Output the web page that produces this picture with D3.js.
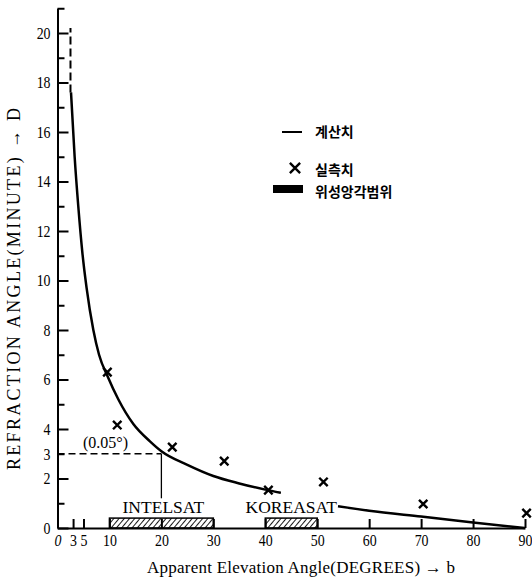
<!DOCTYPE html>
<html>
<head>
<meta charset="utf-8">
<script src="https://cdn.jsdelivr.net/npm/d3@7"></script>
<style>
  body { margin: 0; background: #fff; }
  svg { display: block; }
</style>
</head>
<body>
<div id="chart"></div>
<script>
// calculated refraction curve (null = gap behind the KOREASAT label)
const curveAngle = [2.6, 3.3, 4, 4.8, 5.6, 6.9, 8, 9.7, 11.7, 14.6, 17.8, 20, 25, 30, 35, 40, 43, null, 54, 60, 70, 80, 90]
const curveMinute = [17.6, 15.0, 13.0, 11.1, 9.7, 8.0, 7.0, 6.1, 5.2, 4.2, 3.5, 3.1, 2.55, 2.1, 1.8, 1.55, 1.42, null, 0.88, 0.7, 0.46, 0.22, 0]

// measured values
const measAngle = [9.6, 11.5, 22.1, 32.1, 40.6, 51.2, 70.4, 90.3]
const measMinute = [6.3, 4.16, 3.27, 2.7, 1.53, 1.86, 0.97, 0.6]

// satellite elevation ranges
const satNames = ["INTELSAT", "KOREASAT"]
const satFrom = [10, 40]
const satTo = [30, 50]

const xTicks = [3, 5, 10, 20, 30, 40, 50, 60, 70, 80, 90]
const xLabels = [0, 3, 5, 10, 20, 30, 40, 50, 60, 70, 80, 90]
const yMajor = [0, 2, 4, 6, 8, 10, 12, 14, 16, 18, 20]
const yMinor = [1, 3, 5, 7, 9, 11, 13, 15, 17, 19, 21]
const yLabels = [0, 2, 3, 4, 6, 8, 10, 12, 14, 16, 18, 20]

const legendLabels = ["계산치", "실측치", "위성앙각범위"]

const serif = "'Liberation Serif', 'DejaVu Serif', serif"
const korean = "'Noto Sans CJK KR', sans-serif"

const width = 532
const height = 581

const svg = d3.select("#chart")
  .append("svg")
  .attr("width", width)
  .attr("height", height)
  .attr("font-family", serif)

const x = d3.scaleLinear().domain([0, 90]).range([57.5, 525])
const y = d3.scaleLinear().domain([0, 21]).range([528, 528 - 21 * 24.75])

const defs = svg.append("defs")
const hatch = defs.append("pattern")
  .attr("id", "hatch")
  .attr("patternUnits", "userSpaceOnUse")
  .attr("width", 4).attr("height", 4)
  .attr("patternTransform", "rotate(40)")
hatch.append("line")
  .attr("x1", 0).attr("y1", 0).attr("x2", 0).attr("y2", 4)
  .attr("stroke", "#000").attr("stroke-width", 1.8)

// Y axis: long ticks on even values, short ones on odd
svg.append("g")
  .attr("transform", `translate(${x(0)},0)`)
  .call(d3.axisRight(y).tickValues(yMajor).tickSize(11).tickSizeOuter(0).tickFormat(""))
svg.append("g")
  .attr("transform", `translate(${x(0)},0)`)
  .call(d3.axisRight(y).tickValues(yMinor).tickSize(7).tickSizeOuter(0).tickFormat(""))
  .call(g => g.select(".domain").remove())
svg.append("g")
  .attr("transform", `translate(${x(0) - 2},0)`)
  .call(d3.axisLeft(y).tickValues(yLabels).tickSize(0).tickPadding(6))
  .attr("font-family", serif)
  .attr("font-size", 17)
  .call(g => g.select(".domain").remove())
  .call(g => g.selectAll("text")
    .attr("fill", "#000")
    .attr("transform", "scale(0.82,1)"))

// X axis, ticks pointing up
svg.append("g")
  .attr("transform", `translate(0,${y(0)})`)
  .call(d3.axisTop(x).tickValues(xTicks).tickSize(9).tickSizeOuter(0).tickFormat(""))
svg.append("g")
  .attr("transform", `translate(0,${y(0)})`)
  .call(d3.axisBottom(x).tickValues(xLabels).tickSize(0).tickPadding(6))
  .attr("font-family", serif)
  .attr("font-size", 17)
  .call(g => g.select(".domain").remove())
  .call(g => g.selectAll("text")
    .attr("fill", "#000")
    .attr("transform", "scale(0.82,1)")
    .attr("font-style", d => d === 0 ? "italic" : null))

svg.selectAll(".domain, .tick line")
  .attr("stroke", "#000")
  .attr("stroke-width", 2)

// satellite range bars
const sats = satNames.map((name, i) => ({ name, from: satFrom[i], to: satTo[i] }))
svg.selectAll(".sat")
  .data(sats)
  .join("rect")
  .attr("x", d => x(d.from))
  .attr("y", y(0.4))
  .attr("width", d => x(d.to) - x(d.from))
  .attr("height", y(0) - y(0.4))
  .attr("fill", "url(#hatch)")
  .attr("stroke", "#000")
  .attr("stroke-width", 1.5)

// reference lines at 20 degrees / 3 minutes
svg.append("line")
  .attr("x1", x(0)).attr("x2", x(20))
  .attr("y1", y(3)).attr("y2", y(3))
  .attr("stroke", "#000").attr("stroke-width", 1.3)
  .attr("stroke-dasharray", "7,4")
svg.append("line")
  .attr("x1", x(20)).attr("x2", x(20))
  .attr("y1", y(3)).attr("y2", y(1.2))
  .attr("stroke", "#000").attr("stroke-width", 1.3)
svg.append("text")
  .attr("x", 83).attr("y", y(3) - 6)
  .attr("font-size", 16)
  .text("(0.05°)")

// dashed continuation at the low end
svg.append("line")
  .attr("x1", x(2.5)).attr("x2", x(2.5))
  .attr("y1", y(17.6)).attr("y2", y(20.2))
  .attr("stroke", "#000").attr("stroke-width", 2)
  .attr("stroke-dasharray", "8,4")

// calculated curve
const curvePts = curveAngle.map((a, i) => [a, curveMinute[i]])
const lineGen = d3.line()
  .defined(d => d[0] != null)
  .x(d => x(d[0]))
  .y(d => y(d[1]))
  .curve(d3.curveMonotoneX)

svg.append("path")
  .attr("d", lineGen(curvePts))
  .attr("fill", "none")
  .attr("stroke", "#000")
  .attr("stroke-width", 2.5)

// satellite labels
svg.selectAll(".satlabel")
  .data(sats)
  .join("text")
  .attr("x", d => (x(d.from) + x(d.to)) / 2 + (d.name === "INTELSAT" ? 2 : 0))
  .attr("y", 513)
  .attr("text-anchor", "middle")
  .attr("font-size", 17.5)
  .text(d => d.name)

// measured points
const xSym = d3.symbol().type(d3.symbolX).size(48)
svg.selectAll(".meas")
  .data(measAngle.map((a, i) => [a, measMinute[i]]))
  .join("path")
  .attr("transform", d => `translate(${x(d[0])},${y(d[1])})`)
  .attr("d", xSym())
  .attr("fill", "none")
  .attr("stroke", "#000")
  .attr("stroke-width", 2.4)

// legend
const lg = svg.append("g")
lg.append("line")
  .attr("x1", 282).attr("x2", 302)
  .attr("y1", 132).attr("y2", 132)
  .attr("stroke", "#000").attr("stroke-width", 2)
lg.append("path")
  .attr("transform", "translate(295,168)")
  .attr("d", d3.symbol().type(d3.symbolX).size(70)())
  .attr("fill", "none")
  .attr("stroke", "#000")
  .attr("stroke-width", 2.4)
lg.append("rect")
  .attr("x", 273).attr("y", 185)
  .attr("width", 30).attr("height", 8)
  .attr("fill", "#000")
lg.selectAll("text")
  .data(legendLabels)
  .join("text")
  .attr("font-family", korean)
  .attr("font-weight", 700)
  .attr("x", 315)
  .attr("y", (d, i) => [133, 171, 193][i])
  .attr("dominant-baseline", "middle")
  .attr("font-size", 14)
  .text(d => d)

// axis titles
svg.append("text")
  .attr("x", 147).attr("y", 573)
  .attr("font-size", 17)
  .attr("textLength", 308)
  .attr("lengthAdjust", "spacing")
  .text("Apparent Elevation Angle(DEGREES) → b")

svg.append("text")
  .attr("transform", "translate(20,470) rotate(-90)")
  .attr("font-size", 18)
  .attr("textLength", 362)
  .attr("lengthAdjust", "spacing")
  .text("REFRACTION ANGLE(MINUTE) → D")
</script>
</body>
</html>
